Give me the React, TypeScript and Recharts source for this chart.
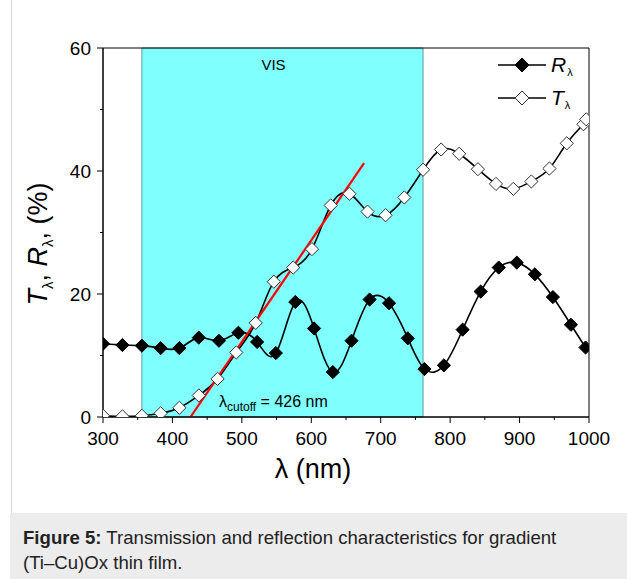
import React from "react";
import { ComposedChart, Line, XAxis, YAxis, ReferenceArea, Legend } from "recharts";

// Reflectance R(λ), filled diamonds
const wavelengthR = [300, 328, 356, 383, 410, 438, 467, 495, 522, 549, 577, 604, 631, 658, 684, 712, 739, 763, 791, 818, 844, 870, 896, 922, 948, 974, 995];
const reflectance = [11.9, 11.7, 11.6, 11.2, 11.2, 12.9, 12.4, 13.7, 12.2, 10.4, 18.7, 14.4, 7.3, 12.4, 19.1, 18.5, 12.8, 7.8, 8.4, 14.2, 20.4, 24.3, 25.1, 23.2, 19.5, 15.0, 11.3];

// Transmittance T(λ), open diamonds
const wavelengthT = [300, 328, 356, 383, 410, 438, 465, 492, 520, 546, 574, 601, 628, 655, 681, 707, 734, 761, 787, 813, 840, 866, 891, 917, 943, 968, 992, 996];
const transmittance = [0.2, 0.1, 0.2, 0.6, 1.5, 3.5, 6.2, 10.5, 15.3, 22.0, 24.3, 27.3, 34.4, 36.3, 33.4, 32.8, 35.7, 40.2, 43.5, 42.8, 40.3, 37.9, 37.1, 38.3, 40.4, 44.5, 47.6, 48.4];

// Linear fit of the absorption edge, crossing zero at the cutoff wavelength
const cutoffWavelength = 426;
const fitX = [cutoffWavelength, 676];
const fitY = [0, 41.3];

const visRange = [356, 761];
const xTicks = [300, 350, 400, 450, 500, 550, 600, 650, 700, 750, 800, 850, 900, 950, 1000];
const yTicks = [0, 10, 20, 30, 40, 50, 60];

const FONT = "'Liberation Sans', Arial, Helvetica, sans-serif";

const rData = wavelengthR.map((x, i) => ({ x, r: reflectance[i] }));
const tData = wavelengthT.map((x, i) => ({ x, t: transmittance[i] }));
const fitData = fitX.map((x, i) => ({ x, fit: fitY[i] }));

const Diamond = (props: any) => {
  const { cx, cy, face, size = 6.6 } = props;
  if (cx == null || cy == null) return null;
  const pts = `${cx},${cy - size} ${cx + size},${cy} ${cx},${cy + size} ${cx - size},${cy}`;
  return <polygon points={pts} fill={face} stroke={face === "#000" ? "#000" : "#333"} strokeWidth={1} />;
};

const XTick = (props: any) => {
  const { x, y, payload } = props;
  const major = payload.value % 100 === 0;
  return (
    <g>
      <line x1={x} x2={x} y1={y} y2={y + (major ? 6 : 3)} stroke="#000" strokeWidth={1} />
      {major && (
        <text x={x} y={y + 28} textAnchor="middle" fontSize={19} fontFamily={FONT} fill="#000">
          {payload.value}
        </text>
      )}
    </g>
  );
};

const YTick = (props: any) => {
  const { x, y, payload } = props;
  const major = payload.value % 20 === 0;
  return (
    <g>
      <line x1={x - (major ? 6 : 3)} x2={x} y1={y} y2={y} stroke="#000" strokeWidth={1} />
      {major && (
        <text x={x - 12} y={y + 6.8} textAnchor="end" fontSize={19} fontFamily={FONT} fill="#000">
          {payload.value}
        </text>
      )}
    </g>
  );
};

const legendItems = [
  { name: "R", face: "#000" },
  { name: "T", face: "#fff" },
];

const renderLegend = () => (
  <div style={{ fontFamily: FONT }}>
    {legendItems.map((it) => (
      <div key={it.name} style={{ display: "flex", alignItems: "center", height: 33 }}>
        <svg width={50} height={18} style={{ display: "block" }}>
          <line x1={0} x2={48} y1={9} y2={9} stroke="#000" strokeWidth={1.5} />
          <Diamond cx={24} cy={9} face={it.face} size={7} />
        </svg>
        <span style={{ fontSize: 21, fontStyle: "italic", marginLeft: 3, lineHeight: 1 }}>{it.name}</span>
        <span style={{ fontSize: 11, position: "relative", top: 7, marginLeft: 1 }}>λ</span>
      </div>
    ))}
  </div>
);

const VisLabel = (props: any) => {
  const { viewBox } = props;
  return (
    <text x={viewBox.x + viewBox.width / 2 - 9} y={viewBox.y + 22} textAnchor="middle" fontSize={15} fontFamily={FONT} fill="#000">
      VIS
    </text>
  );
};

export default function App() {
  return (
    <div style={{ position: "absolute", left: 0, top: 0, width: 627, height: 579, background: "#fff", overflow: "hidden" }}>
      <div style={{ position: "absolute", left: 11, top: 0, width: 1, height: 513, background: "#d9d9d9" }} />
      <ComposedChart width={627} height={500} margin={{ top: 48, right: 38, bottom: 43, left: 43 }}>
        <XAxis
          type="number"
          dataKey="x"
          domain={[300, 1000]}
          ticks={xTicks}
          interval={0}
          allowDataOverflow
          height={40}
          tickSize={0}
          tickMargin={0}
          tickLine={false}
          tick={<XTick />}
          axisLine={{ stroke: "#000", strokeWidth: 1 }}
        />
        <YAxis
          type="number"
          domain={[0, 60]}
          ticks={yTicks}
          interval={0}
          allowDataOverflow
          width={60}
          tickSize={0}
          tickMargin={0}
          tickLine={false}
          tick={<YTick />}
          axisLine={{ stroke: "#000", strokeWidth: 1 }}
        />
        <ReferenceArea
          x1={visRange[0]}
          x2={visRange[1]}
          y1={0}
          y2={60}
          fill="#80ffff"
          fillOpacity={1}
          stroke="#5f9f9f"
          strokeWidth={1}
          label={<VisLabel />}
        />
        <Line
          data={tData}
          dataKey="t"
          type="natural"
          stroke="#000"
          strokeWidth={1.6}
          dot={<Diamond face="#fff" />}
          isAnimationActive={false}
        />
        <Line
          data={rData}
          dataKey="r"
          type="natural"
          stroke="#000"
          strokeWidth={1.6}
          dot={<Diamond face="#000" />}
          isAnimationActive={false}
        />
        <Line
          data={fitData}
          dataKey="fit"
          type="linear"
          stroke="#ff0000"
          strokeWidth={2.2}
          dot={false}
          isAnimationActive={false}
        />
        <ReferenceArea x1={300} x2={1000} y1={0} y2={60} fill="none" stroke="#000" strokeWidth={1} ifOverflow="visible" />
        <Legend
          layout="vertical"
          align="center"
          verticalAlign="middle"
          content={renderLegend}
          wrapperStyle={{ left: 498, top: 48, width: 100, height: 70 }}
        />
      </ComposedChart>

      {/* cutoff annotation */}
      <div style={{ position: "absolute", left: 219, top: 393, fontFamily: FONT, fontSize: 16, whiteSpace: "nowrap", lineHeight: "18px" }}>
        λ<span style={{ fontSize: 12, position: "relative", top: 4 }}>cutoff</span> = {cutoffWavelength} nm
      </div>

      {/* axis titles */}
      <div
        style={{
          position: "absolute",
          left: 40,
          top: 244,
          transform: "translate(-50%, -50%) rotate(-90deg)",
          fontFamily: FONT,
          fontSize: 27,
          whiteSpace: "nowrap",
          lineHeight: "30px",
        }}
      >
        <i>T</i>
        <span style={{ fontSize: 15, position: "relative", top: 6 }}>λ</span>, <i>R</i>
        <span style={{ fontSize: 15, position: "relative", top: 6 }}>λ</span>, (%)
      </div>
      <div
        style={{
          position: "absolute",
          left: 313,
          top: 469,
          transform: "translate(-50%, -50%)",
          fontFamily: FONT,
          fontSize: 27,
          whiteSpace: "nowrap",
          lineHeight: "30px",
        }}
      >
        λ (nm)
      </div>

      {/* caption */}
      <div
        style={{
          position: "absolute",
          left: 10,
          top: 513,
          width: 617,
          height: 66,
          background: "#ececec",
          boxSizing: "border-box",
          padding: "12px 0 0 13px",
          fontFamily: FONT,
          fontSize: 18.6,
          lineHeight: "25px",
          color: "#222",
          whiteSpace: "nowrap",
        }}
      >
        <b>Figure 5:</b> Transmission and reflection characteristics for gradient
        <br />
        (Ti–Cu)Ox thin film.
      </div>
    </div>
  );
}
